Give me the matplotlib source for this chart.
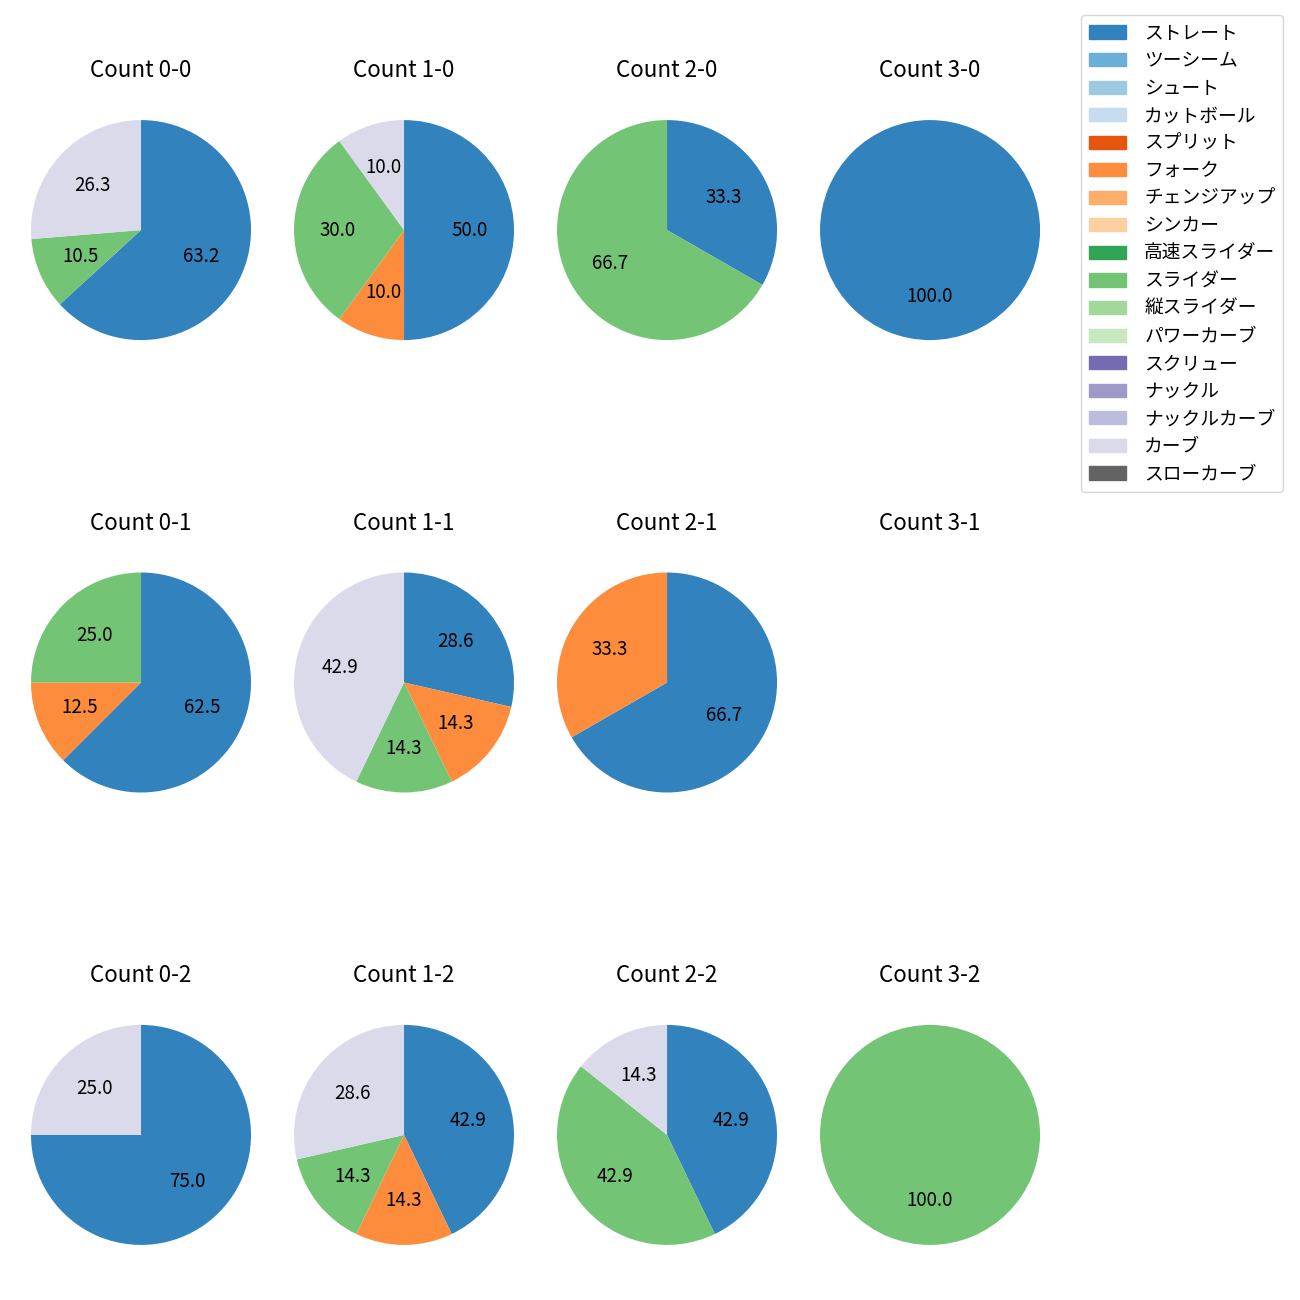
import matplotlib

matplotlib.use("Agg")
import matplotlib.pyplot as plt
from matplotlib.patches import Patch

plt.rcParams["font.family"] = ["Noto Sans CJK JP", "DejaVu Sans"]
plt.rcParams["font.size"] = 13.5

PITCHES = ["ストレート", "ツーシーム", "シュート", "カットボール", "スプリット", "フォーク",
           "チェンジアップ", "シンカー", "高速スライダー", "スライダー", "縦スライダー",
           "パワーカーブ", "スクリュー", "ナックル", "ナックルカーブ", "カーブ", "スローカーブ"]
COLORS = [plt.cm.tab20c(i) for i in range(len(PITCHES))]

# per count: (pitch names, percentages)
COUNTS = [
    ["0-0", "1-0", "2-0", "3-0"],
    ["0-1", "1-1", "2-1", "3-1"],
    ["0-2", "1-2", "2-2", "3-2"],
]
DATA = {
    "0-0": (["ストレート", "スライダー", "カーブ"], [63.2, 10.5, 26.3]),
    "1-0": (["ストレート", "フォーク", "スライダー", "カーブ"], [50.0, 10.0, 30.0, 10.0]),
    "2-0": (["ストレート", "スライダー"], [33.3, 66.7]),
    "3-0": (["ストレート"], [100.0]),
    "0-1": (["ストレート", "フォーク", "スライダー"], [62.5, 12.5, 25.0]),
    "1-1": (["ストレート", "フォーク", "スライダー", "カーブ"], [28.6, 14.3, 14.3, 42.9]),
    "2-1": (["ストレート", "フォーク"], [66.7, 33.3]),
    "3-1": ([], []),
    "0-2": (["ストレート", "カーブ"], [75.0, 25.0]),
    "1-2": (["ストレート", "フォーク", "スライダー", "カーブ"], [42.9, 14.3, 14.3, 28.6]),
    "2-2": (["ストレート", "スライダー", "カーブ"], [42.9, 42.9, 14.3]),
    "3-2": (["スライダー"], [100.0]),
}

fig, axes = plt.subplots(3, 4, figsize=(13, 13), dpi=100)
fig.subplots_adjust(left=0.0027, right=0.8212, top=0.9288, bottom=0.0212,
                    wspace=-0.0436, hspace=0.645)

for r, row in enumerate(COUNTS):
    for c, cnt in enumerate(row):
        ax = axes[r, c]
        names, vals = DATA[cnt]
        if vals:
            ax.pie(vals, colors=[COLORS[PITCHES.index(n)] for n in names],
                   autopct="%.1f", startangle=90, counterclock=False)
        else:
            ax.set_xlim(-1.25, 1.25)
            ax.set_ylim(-1.25, 1.25)
            ax.axis("off")
        ax.set_title(f"Count {cnt}", pad=11)

handles = [Patch(color=col, label=p) for p, col in zip(PITCHES, COLORS)]
fig.legend(handles=handles, loc="upper right", bbox_to_anchor=(1283 / 1300, 1 - 15 / 1300),
           borderaxespad=0, labelspacing=0.35, handletextpad=0.95)

fig.savefig("out.png", dpi=100)
